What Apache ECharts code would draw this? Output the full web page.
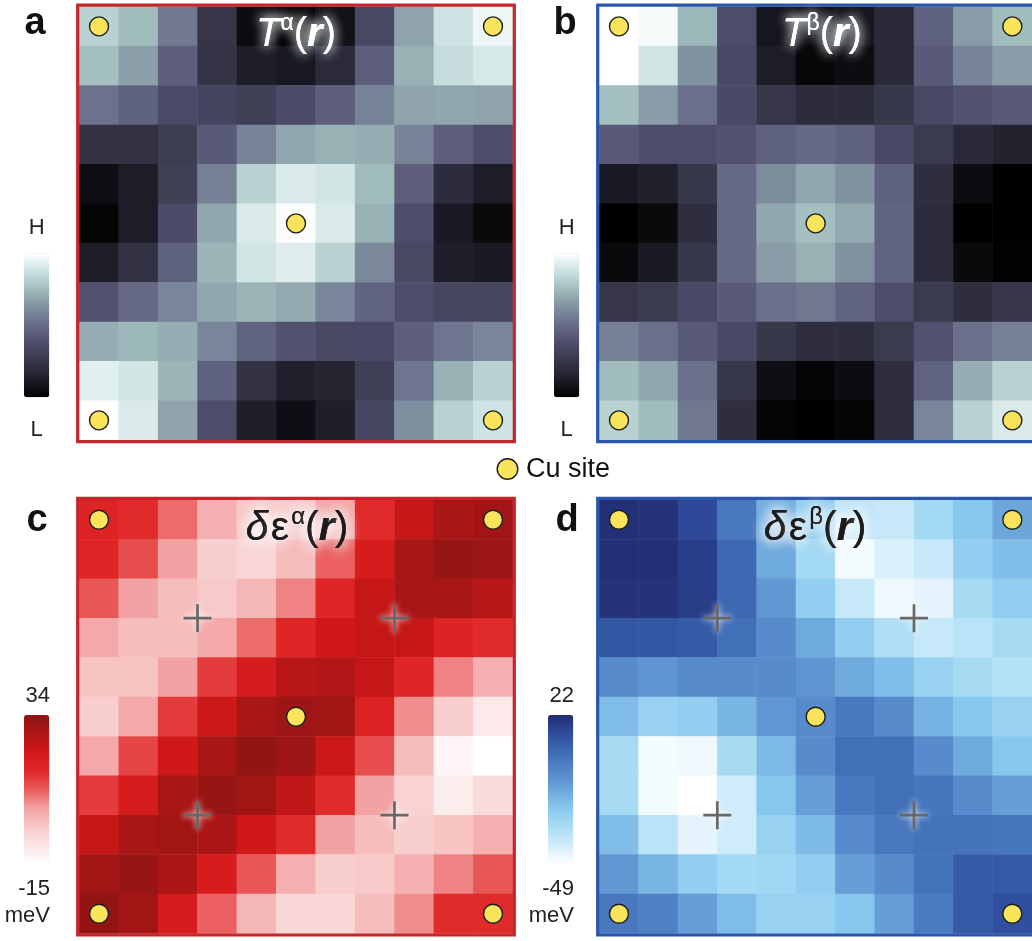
<!DOCTYPE html>
<html>
<head>
<meta charset="utf-8">
<title>Cu-site maps</title>
<script src="https://cdn.jsdelivr.net/npm/echarts@6/dist/echarts.min.js"></script>
<style>
  html, body { margin: 0; padding: 0; background: #ffffff; }
  #chart { width: 1032px; height: 941px; }
</style>
</head>
<body>
<div id="chart"></div>
<script>
// Lattice columns / rows (11 x 11 sites)
const sites = ['0', '1', '2', '3', '4', '5', '6', '7', '8', '9', '10'];

// T^alpha(r), relative units (0 = L, 100 = H); rows listed top to bottom
const tAlpha = [
  [82, 75, 55, 25, 5, 2, 7, 35, 68, 88, 96],
  [76, 67, 45, 24, 12, 10, 19, 45, 72, 86, 90],
  [52, 46, 37, 33, 30, 37, 45, 58, 68, 69, 68],
  [23, 23, 29, 43, 58, 69, 72, 71, 58, 45, 38],
  [6, 12, 30, 57, 82, 91, 89, 75, 45, 20, 12],
  [2, 12, 37, 69, 91, 99, 91, 72, 38, 11, 4],
  [12, 23, 46, 73, 89, 92, 82, 60, 35, 13, 11],
  [40, 49, 59, 69, 73, 70, 59, 47, 38, 34, 34],
  [71, 74, 71, 59, 47, 40, 35, 36, 45, 53, 59],
  [93, 89, 73, 46, 23, 14, 16, 30, 53, 72, 82],
  [100, 91, 68, 38, 13, 6, 13, 34, 62, 82, 88]
];

// T^beta(r), relative units (0 = L, 100 = H)
const tBeta = [
  [100, 98, 74, 38, 9, 6, 9, 18, 46, 66, 75],
  [100, 89, 63, 36, 12, 3, 5, 18, 43, 58, 66],
  [76, 66, 51, 36, 25, 20, 20, 26, 36, 40, 43],
  [43, 38, 38, 40, 46, 49, 46, 36, 28, 18, 15],
  [11, 14, 26, 49, 61, 69, 63, 46, 21, 5, 0],
  [0, 4, 21, 49, 69, 76, 70, 47, 20, 0, 0],
  [4, 11, 26, 49, 66, 72, 63, 47, 20, 4, 1],
  [25, 28, 36, 43, 51, 54, 47, 38, 28, 21, 25],
  [57, 51, 43, 36, 26, 21, 21, 28, 40, 51, 57],
  [75, 69, 51, 26, 6, 2, 5, 21, 47, 71, 82],
  [82, 75, 54, 21, 2, 0, 2, 21, 59, 82, 91]
];

// delta epsilon^alpha(r) in meV
const dEpsAlpha = [
  [17, 15, 8, 1, -3, -4, 2, 15, 24, 29, 30],
  [16, 11, 3, -4, -6, -1, 9, 20, 29, 32, 31],
  [10, 3, -1, -3, 0, 6, 16, 24, 29, 29, 26],
  [2, -1, -1, 2, 8, 16, 22, 24, 24, 17, 15],
  [-2, -2, 3, 13, 20, 26, 27, 24, 16, 6, 1],
  [-4, 2, 13, 23, 29, 31, 30, 18, 5, -4, -10],
  [2, 12, 22, 29, 33, 31, 23, 11, -1, -13, -15],
  [13, 20, 29, 32, 30, 25, 15, 3, -5, -11, -7],
  [24, 29, 30, 28, 22, 15, 3, -1, -4, -2, 1],
  [30, 32, 28, 20, 10, 1, -4, -3, 1, 6, 10],
  [33, 30, 20, 9, 0, -6, -6, -1, 5, 15, 15]
];

// delta epsilon^beta(r) in meV
const dEpsBeta = [
  [21, 20, 14, 0, -16, -25, -37, -38, -30, -22, -14],
  [21, 21, 17, 5, -15, -30, -47, -42, -38, -25, -20],
  [20, 20, 17, 5, -10, -25, -38, -46, -44, -31, -25],
  [10, 10, 9, 3, -6, -15, -25, -33, -38, -35, -31],
  [-6, -9, -6, -6, -6, -9, -15, -20, -27, -31, -34],
  [-20, -27, -25, -18, -10, -6, 0, -6, -17, -22, -27],
  [-31, -47, -46, -31, -19, -6, 3, 3, -6, -15, -22],
  [-31, -47, -49, -40, -22, -12, 0, 3, 1, -6, -12],
  [-20, -35, -44, -40, -27, -19, -6, 0, 2, 2, 1],
  [-10, -18, -25, -30, -29, -25, -12, -6, 2, 9, 9],
  [0, -3, -12, -20, -27, -27, -22, -12, -1, 9, 12]
];

// Cu sites and plaquette centres, in lattice units (column, row)
const cuSites = [[0, 0], [10, 0], [5, 5], [0, 10], [10, 10]];
const crossSites = [[2.5, 2.5], [7.5, 2.5], [2.5, 7.5], [7.5, 7.5]];

// Colour-bar ranges and their labels
const rangeT = [0, 100];
const rangeAlpha = [-15, 34];
const rangeBeta = [-49, 22];
const labelsT = ['H', 'L'];
const labelsAlpha = ['34', '-15', 'meV'];
const labelsBeta = ['22', '-49', 'meV'];
const legendText = 'Cu site';
const panelLetters = ['a', 'b', 'c', 'd'];

// ---------------------------------------------------------------------------
const FONT = '"Liberation Sans", Arial, Helvetica, sans-serif';
const SIDE = 433.4;
const RED = '#c4262b';
const BLUE = '#2b55a8';

const grayRamp = ['#000000', '#1e1e2a', '#363648', '#4c4c6a', '#686c88',
                  '#8090a0', '#a0bcbc', '#cce2e2', '#ffffff'];
const redRamp = ['#ffffff', '#fbe4e4', '#f8c8c8', '#f2a0a0', '#ea5a5a',
                 '#e02626', '#d21818', '#ae1616', '#8c1412'];
const blueRamp = ['#ffffff', '#d0ecfa', '#a8dcf4', '#88c8ee', '#6aa4da',
                  '#5486c8', '#3e6cb4', '#2e4c9c', '#222c70'];

const panels = [
  { left: 79.3, top: 6.7, mat: tAlpha, range: rangeT, ramp: grayRamp, frame: RED,
    bar: [24, 253.3, 25.3, 144] },
  { left: 599.3, top: 6.7, mat: tBeta, range: rangeT, ramp: grayRamp, frame: BLUE,
    bar: [554, 253.3, 25.3, 144] },
  { left: 79.3, top: 500, mat: dEpsAlpha, range: rangeAlpha, ramp: redRamp, frame: RED,
    bar: [24, 715, 25.3, 148.3] },
  { left: 599.3, top: 500, mat: dEpsBeta, range: rangeBeta, ramp: blueRamp, frame: BLUE,
    bar: [548, 715, 25.3, 148.3] }
];

function toCells(mat) {
  const out = [];
  mat.forEach((row, r) => row.forEach((v, c) => out.push([c, r, v])));
  return out;
}

const grid = [], xAxis = [], yAxis = [], series = [], visualMap = [], graphic = [];

panels.forEach((p, i) => {
  grid.push({ left: p.left, top: p.top, width: SIDE, height: SIDE, show: false });
  xAxis.push({ type: 'category', gridIndex: i, data: sites, show: false });
  xAxis.push({ type: 'value', gridIndex: i, min: -0.5, max: 10.5, show: false });
  yAxis.push({ type: 'category', gridIndex: i, data: sites, inverse: true, show: false });
  yAxis.push({ type: 'value', gridIndex: i, min: -0.5, max: 10.5, inverse: true, show: false });
  series.push({
    type: 'heatmap', xAxisIndex: 2 * i, yAxisIndex: 2 * i,
    data: toCells(p.mat), silent: true, itemStyle: { borderWidth: 0 },
    emphasis: { disabled: true }
  });
  visualMap.push({
    type: 'continuous', seriesIndex: i, min: p.range[0], max: p.range[1],
    inRange: { color: p.ramp }, calculable: false, hoverLink: false,
    left: p.bar[0], top: p.bar[1], itemWidth: p.bar[2], itemHeight: p.bar[3],
    padding: 0, text: null, showLabel: false
  });
  // frame just outside the cells
  graphic.push({
    type: 'rect', z: 100, silent: true,
    shape: { x: p.left - 1.6, y: p.top - 1.6, width: SIDE + 3.2, height: SIDE + 3.2 },
    style: { fill: 'none', stroke: p.frame, lineWidth: 3.2 }
  });
});

// Cu site markers on every panel
panels.forEach((p, i) => {
  series.push({
    type: 'scatter', name: legendText, xAxisIndex: 2 * i + 1, yAxisIndex: 2 * i + 1,
    data: cuSites, symbol: 'circle', symbolSize: 19, silent: true, z: 6,
    itemStyle: { color: '#f9e45b', borderColor: '#1e1e1e', borderWidth: 1.4, opacity: 1 }
  });
});

// plaquette crosses on the energy maps
[2, 3].forEach(i => {
  series.push({
    type: 'scatter', xAxisIndex: 2 * i + 1, yAxisIndex: 2 * i + 1,
    data: crossSites, silent: true, z: 5,
    symbol: 'path://M0 12.2H27V14.8H0Z M12.2 0H14.8V27H12.2Z', symbolSize: 28,
    itemStyle: { color: '#686868', shadowBlur: 6, shadowColor: 'rgba(255,255,255,0.95)', opacity: 1 }
  });
});

// titles inside the maps
function titleRich(color, size, supSize, supLine) {
  const base = { fontFamily: FONT, fontSize: size, lineHeight: size + 6, verticalAlign: 'middle', fill: color };
  return {
    g: Object.assign({}, base, { fontStyle: 'italic' }),
    e: Object.assign({}, base),
    sp: Object.assign({}, base, { fontSize: 8 }),
    s: Object.assign({}, base, { fontSize: supSize, lineHeight: supLine, verticalAlign: 'top' }),
    p: Object.assign({}, base),
    b: Object.assign({}, base, { fontStyle: 'italic', fontWeight: 'bold' })
  };
}
function addTitle(x, y, text, color, glow, blur, size, supSize, supLine, layers) {
  for (let k = 0; k < layers; k++) {
    graphic.push({
      type: 'text', x: x, y: y, z: 120 + k, silent: true,
      style: {
        text: text, align: 'center', verticalAlign: 'middle', fill: color,
        textShadowColor: glow, textShadowBlur: blur,
        rich: titleRich(color, size, supSize, supLine)
      }
    });
  }
}
addTitle(296, 35, '{g|T}{s|α}{p|(}{b|r}{p|)}', '#ffffff', 'rgba(235,242,242,0.95)', 12, 40, 23, 25, 2);
addTitle(822, 35, '{g|T}{s|β}{p|(}{b|r}{p|)}', '#ffffff', 'rgba(235,242,242,0.95)', 12, 40, 23, 25, 2);
addTitle(297, 529, '{g|δ}{sp| }{e|ε}{sp| }{s|α}{p|(}{b|r}{p|)}', '#1b1b1b', 'rgba(255,255,255,1)', 14, 41, 24, 30, 3);
addTitle(815, 529, '{g|δ}{sp| }{e|ε}{sp| }{s|β}{p|(}{b|r}{p|)}', '#1b1b1b', 'rgba(255,255,255,1)', 14, 41, 24, 30, 3);

// panel letters
const letterPos = [[35, 24], [565, 24], [37, 521], [567, 521]];
panelLetters.forEach((t, i) => {
  graphic.push({
    type: 'text', x: letterPos[i][0], y: letterPos[i][1], silent: true,
    style: { text: t, align: 'center', verticalAlign: 'middle', fill: '#111',
             font: 'bold 38px ' + FONT }
  });
});

// colour-bar labels
function label(x, y, t, align) {
  graphic.push({
    type: 'text', x: x, y: y, silent: true,
    style: { text: t, align: align, verticalAlign: 'middle', fill: '#222',
             font: '22px ' + FONT }
  });
}
label(36.7, 228, labelsT[0], 'center');
label(36.7, 430, labelsT[1], 'center');
label(566.7, 228, labelsT[0], 'center');
label(566.7, 430, labelsT[1], 'center');
label(50, 696, labelsAlpha[0], 'right');
label(50, 889, labelsAlpha[1], 'right');
label(50, 916, labelsAlpha[2], 'right');
label(574, 696, labelsBeta[0], 'right');
label(574, 889, labelsBeta[1], 'right');
label(574, 916, labelsBeta[2], 'right');

// Cu site key
graphic.push({
  type: 'circle', silent: true, shape: { cx: 507.5, cy: 469, r: 10.3 },
  style: { fill: '#f9e45b', stroke: '#1e1e1e', lineWidth: 1.4 }
});
graphic.push({
  type: 'text', x: 526, y: 470, silent: true,
  style: { text: legendText, align: 'left', verticalAlign: 'middle', fill: '#111',
           font: '27px ' + FONT }
});

const chart = echarts.init(document.getElementById('chart'), null, { renderer: 'canvas' });
chart.setOption({
  animation: false,
  backgroundColor: '#ffffff',
  grid: grid, xAxis: xAxis, yAxis: yAxis,
  visualMap: visualMap, series: series, graphic: graphic
});
</script>
</body>
</html>
